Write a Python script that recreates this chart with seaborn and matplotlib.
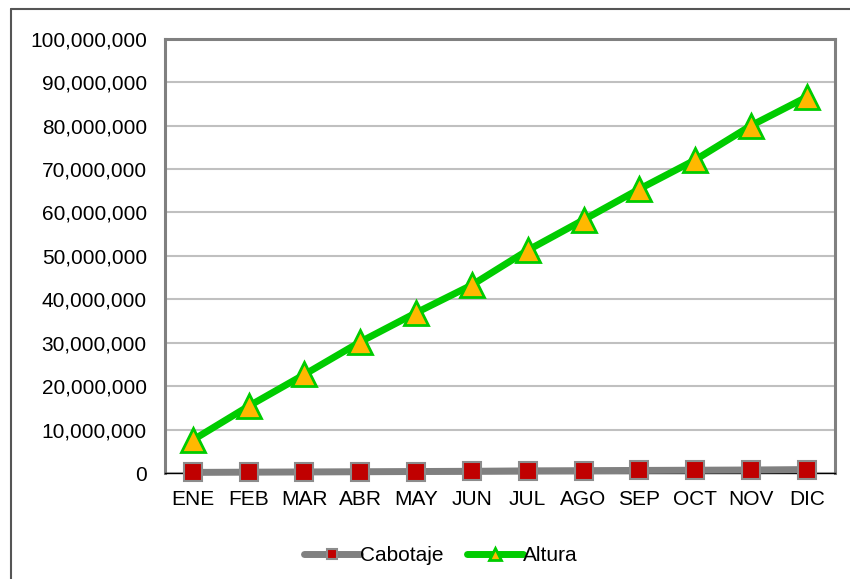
import numpy as np
import pandas as pd
import seaborn as sns
import matplotlib.pyplot as plt
from matplotlib.lines import Line2D
from matplotlib.ticker import FuncFormatter

# datos
meses = ["ENE", "FEB", "MAR", "ABR", "MAY", "JUN", "JUL", "AGO", "SEP", "OCT", "NOV", "DIC"]
cabotaje = [0.15e6, 0.2e6, 0.25e6, 0.3e6, 0.35e6, 0.4e6, 0.5e6, 0.55e6, 0.6e6, 0.65e6, 0.7e6, 0.8e6]
altura = [7.6e6, 15.4e6, 22.7e6, 30.2e6, 36.9e6, 43.3e6, 51.3e6, 58.3e6, 65.4e6, 72.1e6, 80.0e6, 86.6e6]

df = pd.DataFrame({"Mes": meses * 2,
                   "Valor": cabotaje + altura,
                   "Serie": ["Cabotaje"] * 12 + ["Altura"] * 12})

sns.set_theme(style="white")
plt.rcParams['font.family'] = ['Liberation Sans', 'DejaVu Sans']
plt.rcParams['text.color'] = 'black'

fig = plt.figure(figsize=(8.5, 5.79), dpi=100)
ax = fig.add_axes([0.194, 0.183, 0.788, 0.750])

estilos = {
    "Cabotaje": dict(color="#808080", marker="s", ms=13, mfc="#c00000", mec="#8c8c8c", mew=1.5, lw=5),
    "Altura": dict(color="#00cc00", marker="^", ms=17, mfc="#ffb800", mec="#00cc00", mew=2, lw=5),
}
for serie in ["Cabotaje", "Altura"]:
    sub = df[df["Serie"] == serie]
    st = estilos[serie]
    sns.lineplot(data=sub, x="Mes", y="Valor", ax=ax, sort=False, label=serie,
                 color=st["color"], linewidth=st["lw"], marker=st["marker"],
                 markersize=st["ms"], markerfacecolor=st["mfc"],
                 markeredgecolor=st["mec"], markeredgewidth=st["mew"], clip_on=False,
                 zorder=3)

ax.set_xlim(-0.5, 11.5)
ax.set_ylim(0, 100e6)
ax.set_yticks(np.arange(0, 100e6 + 1, 10e6))
ax.yaxis.set_major_formatter(FuncFormatter(lambda v, p: f"{int(v):,}"))
ax.grid(axis="y", color="#c0c0c0", linewidth=1.5)
ax.set_axisbelow(True)
ax.set_xlabel("")
ax.set_ylabel("")
ax.tick_params(axis="y", labelsize=15, length=0, pad=13, labelcolor="black")
ax.tick_params(axis="x", labelsize=15, length=0, pad=12, labelcolor="black")

for lado in ["left", "right", "top"]:
    ax.spines[lado].set_color("#808080")
    ax.spines[lado].set_linewidth(2.2)
ax.spines["bottom"].set_color("black")
ax.spines["bottom"].set_linewidth(1)

leg = ax.legend(loc="upper center", bbox_to_anchor=(0.412, -0.125), ncol=2, frameon=False,
                fontsize=15, handlelength=2.7, handletextpad=0.0, columnspacing=1.1,
                markerscale=0.55)
for t in leg.get_texts():
    t.set_color("black")

# borde exterior del grafico (solo se ven arriba e izquierda)
fig.add_artist(Line2D([11 / 850, 11 / 850], [0, 1 - 9 / 579], transform=fig.transFigure,
                      color="#555555", linewidth=1.5))
fig.add_artist(Line2D([11 / 850, 1], [1 - 9 / 579, 1 - 9 / 579], transform=fig.transFigure,
                      color="#555555", linewidth=1.5))

fig.savefig("out.png", dpi=100)
